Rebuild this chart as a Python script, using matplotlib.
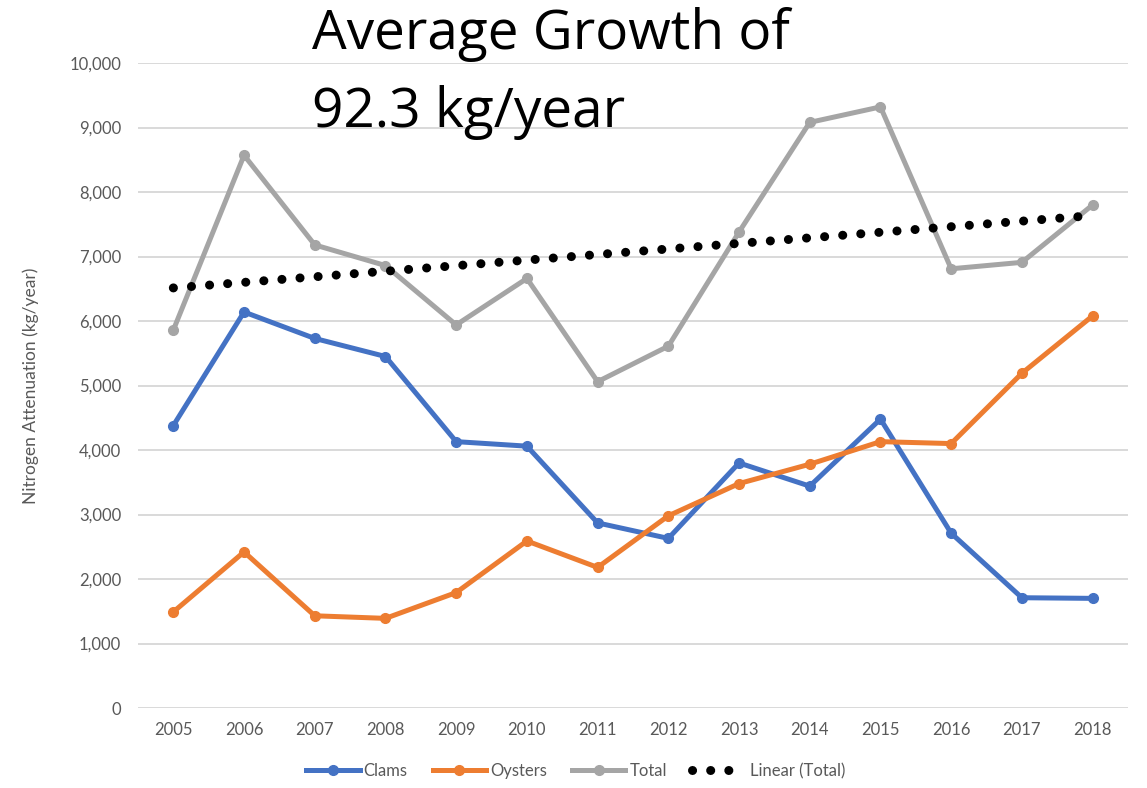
import matplotlib
matplotlib.use("Agg")
import matplotlib.pyplot as plt
import numpy as np
from matplotlib.ticker import FuncFormatter

years = [2005, 2006, 2007, 2008, 2009, 2010, 2011, 2012, 2013, 2014, 2015, 2016, 2017, 2018]
clams = [4380, 6140, 5730, 5450, 4130, 4060, 2870, 2630, 3800, 3440, 4480, 2710, 1710, 1700]
oysters = [1490, 2420, 1430, 1390, 1790, 2590, 2180, 2980, 3480, 3780, 4130, 4100, 5190, 6080]
total = [5860, 8570, 7180, 6860, 5940, 6660, 5060, 5610, 7380, 9080, 9320, 6810, 6910, 7800]

title_lines = ["Average Growth of", "92.3 kg/year"]

plt.rcParams['font.family'] = ['Lato', 'DejaVu Sans']

fig = plt.figure(figsize=(11.47, 7.88), dpi=100)
ax = fig.add_axes([0.1203, 0.1015, 0.8631, 0.8185])

x = np.arange(len(years))

# least-squares trend of the total, like a spreadsheet "Linear" trendline
m, c = np.polyfit(x, total, 1)
trend = m * x + c

ax.plot(x, clams, color='#4472C4', lw=3.6, marker='o', ms=7, label='Clams', zorder=3)
ax.plot(x, oysters, color='#ED7D31', lw=3.6, marker='o', ms=7, label='Oysters', zorder=3)
ax.plot(x, total, color='#A5A5A5', lw=3.6, marker='o', ms=7, label='Total', zorder=3)
ax.plot(x, trend, color='black', lw=6.5, linestyle=(0, (0.01, 2.0)),
        dash_capstyle='round', label='Linear (Total)', zorder=4)

ax.set_xlim(-0.5, len(years) - 0.5)
ax.set_ylim(0, 10000)
ax.set_yticks(np.arange(0, 10001, 1000))
ax.yaxis.set_major_formatter(FuncFormatter(lambda v, p: f"{int(v):,}"))
ax.set_xticks(x)
ax.set_xticklabels([str(y) for y in years])

ax.grid(axis='y', color='#D9D9D9', lw=1.4, zorder=0)
ax.set_axisbelow(True)
for s in ax.spines.values():
    s.set_visible(False)
ax.tick_params(axis='both', length=0, labelsize=12, colors='#595959')
ax.tick_params(axis='y', pad=12)
ax.tick_params(axis='x', pad=10)

ax.set_ylabel('Nitrogen Attenuation (kg/year)', fontsize=12.5, color='#595959', labelpad=22)

leg = ax.legend(loc='upper center', bbox_to_anchor=(0.442, -0.062), ncol=4, frameon=False,
                fontsize=12, handlelength=3.2, columnspacing=1.5, handletextpad=0.25)
for t in leg.get_texts():
    t.set_color('#595959')

fig.text(0.272, 0.938, title_lines[0], fontsize=39.5, family=['Open Sans', 'DejaVu Sans'],
         color='black', ha='left', va='baseline')
fig.text(0.272, 0.839, title_lines[1], fontsize=39.5, family=['Open Sans', 'DejaVu Sans'],
         color='black', ha='left', va='baseline')

fig.savefig('out.png', dpi=100, facecolor='white')
